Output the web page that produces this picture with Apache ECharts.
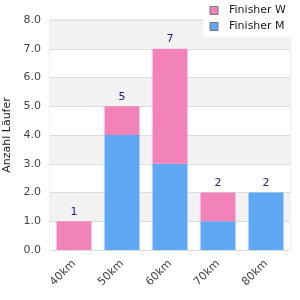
<!DOCTYPE html>
<html>
<head>
<meta charset="utf-8">
<script src="https://cdn.jsdelivr.net/npm/echarts@6/dist/echarts.min.js"></script>
<style>
  html, body { margin: 0; padding: 0; background: #fff; }
  #chart { width: 300px; height: 300px; }
</style>
</head>
<body>
<div id="chart"></div>
<script>
// Daten
var categories = ['40km', '50km', '60km', '70km', '80km']
var finisherM = [0, 4, 3, 1, 2]
var finisherW = [1, 1, 4, 1, 0]
var totals = [1, 5, 7, 2, 2]

var chart = echarts.init(document.getElementById('chart'))
var font = 'DejaVu Sans'

var option = {
  animation: false,
  textStyle: { fontFamily: font },
  legend: {
    top: 0,
    right: 8,
    orient: 'vertical',
    itemWidth: 8,
    itemHeight: 8,
    itemGap: 3,
    padding: [4, 6, 4, 6],
    backgroundColor: '#fff',
    textStyle: { fontFamily: font, fontSize: 11, color: '#222', padding: [0, 0, 0, 6], lineHeight: 13 },
    data: [
      { name: 'Finisher W', icon: 'rect', itemStyle: { borderColor: '#777', borderWidth: 1 } },
      { name: 'Finisher M', icon: 'rect', itemStyle: { borderColor: '#777', borderWidth: 1 } }
    ],
    z: 10
  },
  grid: {
    left: 50,
    right: 10,
    top: 20,
    bottom: 50,
    outerBoundsMode: 'none',
    containLabel: false,
    show: true,
    borderColor: '#ddd',
    borderWidth: 1
  },
  xAxis: {
    type: 'category',
    data: categories,
    axisLine: { show: false },
    axisTick: { show: false },
    axisLabel: { rotate: 45, fontFamily: font, fontSize: 11, color: '#444', margin: 12 }
  },
  yAxis: {
    type: 'value',
    min: 0,
    max: 8,
    interval: 1,
    name: 'Anzahl Läufer',
    nameLocation: 'middle',
    nameGap: 37,
    nameTextStyle: { fontFamily: font, fontSize: 11, color: '#222' },
    axisLine: { show: false },
    axisTick: { show: false },
    axisLabel: {
      fontFamily: font, fontSize: 11, color: '#444', margin: 9,
      formatter: function (v) { return v.toFixed(1) }
    },
    splitLine: { lineStyle: { color: '#ddd', width: 1 } },
    splitArea: { show: true, areaStyle: { color: ['#fff', '#f2f2f2'] } }
  },
  series: [
    {
      name: 'Finisher M',
      type: 'bar',
      stack: 'total',
      barWidth: 35,
      itemStyle: { color: '#60a8f4' },
      data: finisherM
    },
    {
      name: 'Finisher W',
      type: 'bar',
      stack: 'total',
      barWidth: 35,
      itemStyle: { color: '#f283b9' },
      label: {
        show: true,
        position: 'top',
        distance: 4,
        fontFamily: font,
        fontSize: 11,
        color: '#1a1a8a',
        formatter: function (p) { return totals[p.dataIndex] }
      },
      data: finisherW
    }
  ]
}

chart.setOption(option)
</script>
</body>
</html>
